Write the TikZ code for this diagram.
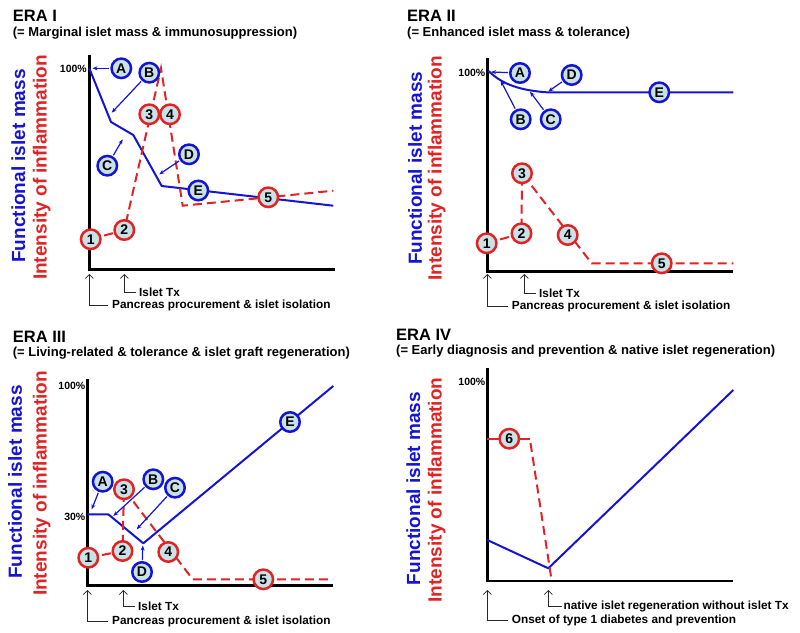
\documentclass[tikz,border=0pt]{standalone}
\usepackage{fontspec}
\setmainfont{Liberation Sans}
\usetikzlibrary{arrows.meta}
\definecolor{bluec}{RGB}{20,20,210}
\definecolor{redc}{RGB}{225,35,35}
\definecolor{fillc}{RGB}{200,226,232}
\definecolor{annc}{RGB}{40,40,40}
\tikzset{
  circ/.style={circle, line width=2.5pt, fill=fillc, minimum size=19.5pt, inner sep=0pt, font=\bfseries\fontsize{14}{14}\selectfont},
  bc/.style={circ, draw=bluec},
  rc/.style={circ, draw=redc},
  bline/.style={draw=bluec, line width=2pt, line join=round},
  rline/.style={draw=redc, line width=2pt, dash pattern=on 9pt off 5pt},
  rsolid/.style={draw=redc, line width=2pt},
  barrow/.style={draw=bluec, line width=1.2pt, -{Stealth[length=5pt,width=4pt]}, shorten <=1pt},
  axisline/.style={draw=black, line width=2.5pt},
  ann/.style={draw=annc, line width=0.7pt},
  annarrow/.style={ann, -{Straight Barb[length=4pt,width=8pt]}},
  anntext/.style={anchor=west, inner sep=0pt, font=\bfseries\fontsize{11.8}{12}\selectfont},
  title/.style={anchor=base west, inner sep=0pt, font=\bfseries\fontsize{16.5}{16.5}\selectfont},
  subtitle/.style={anchor=base west, inner sep=0pt, font=\bfseries\fontsize{13}{13}\selectfont},
  pct/.style={anchor=east, inner sep=0pt, font=\bfseries\fontsize{10.5}{11}\selectfont},
  ylabb/.style={rotate=90, inner sep=0pt, text=bluec, font=\bfseries\fontsize{19}{19}\selectfont},
  ylabr/.style={rotate=90, inner sep=0pt, text=redc, font=\bfseries\fontsize{19}{19}\selectfont},
}
\begin{document}
\begin{tikzpicture}[x=1pt, y=-1pt]
\useasboundingbox[fill=white] (0,0) rectangle (800,632);

% ================= ERA I =================
\node[title] (t1) at (12.7,21.7) {ERA I};
\node[subtitle] (s1) at (12.7,36.7) {(= Marginal islet mass \& immunosuppression)};
\node[ylabb] (yb1) at (18.3,166) {Functional islet mass};
\node[ylabr] (yr1) at (41.7,167.5) {Intensity of inflammation};
\draw[axisline] (89.3,55) |- (335,269.5);
\node[pct] (p1) at (87,69) {100\%};
\draw[bline] (89.3,68.3) -- (111,122) -- (133.3,135) -- (161.7,186) -- (333.3,205.7);
\draw[rline] (90.7,239.3) -- (124.3,230) -- (161,68.3) -- (182.7,205.7) -- (268.3,197.3) -- (333.3,190.7);
\coordinate (a1) at (92.5,68.3);
\coordinate (b1) at (111.7,112.7);
\coordinate (c1) at (122.7,139.3);
\coordinate (d1) at (159.3,174.3);
\node[bc] (A1) at (121.3,68.3) {A};
\node[bc] (B1) at (149.3,72.7) {B};
\node[bc] (C1) at (107.3,165.7) {C};
\node[bc] (D1) at (189,154.3) {D};
\node[bc] (E1) at (198.3,190.5) {E};
\draw[barrow] (A1) -- (a1);
\draw[barrow] (B1) -- (b1);
\draw[barrow] (C1) -- (c1);
\draw[barrow] (D1) -- (d1);
\node[rc] (n11) at (90.7,239.3) {1};
\node[rc] (n12) at (124.3,230) {2};
\node[rc] (n13) at (149.3,114.3) {3};
\node[rc] (n14) at (170,114.3) {4};
\node[rc] (n15) at (268.3,197.3) {5};
\coordinate (u1a) at (89.3,274);
\coordinate (u1b) at (124.3,274);
\node[anntext] (x1a) at (112,305) {Pancreas procurement \& islet isolation};
\node[anntext] (x1b) at (139,292) {Islet Tx};
\draw[annarrow] (x1a.west) ++(-4,0) -| (u1a);
\draw[annarrow] (x1b.west) ++(-3,0) -| (u1b);

% ================= ERA II =================
\node[title] (t2) at (407,21.7) {ERA II};
\node[subtitle] (s2) at (407,36.7) {(= Enhanced islet mass \& tolerance)};
\node[ylabb] (yb2) at (415,168.3) {Functional islet mass};
\node[ylabr] (yr2) at (436.7,168.3) {Intensity of inflammation};
\draw[axisline] (487.3,58) |- (733.3,271.5);
\node[pct] (p2) at (485.5,72.7) {100\%};
\draw[bline] (488.5,71) .. controls (500,82) and (515,90) .. (546.7,92.3) -- (733.3,92.3);
\coordinate (r2a) at (591.7,263.3);
\coordinate (r2b) at (733.3,263.3);
\draw[rline] (486.7,243.3) -- (521.5,233.3) -- (522,173.3) -- (r2a) -- (r2b);
\node[rc] (n21) at (486.7,243.3) {1};
\node[rc] (n22) at (521.5,233.3) {2};
\node[rc] (n23) at (522,173.3) {3};
\node[rc] (n24) at (567.7,235) {4};
\node[rc] (n25) at (661.7,263.3) {5};
\coordinate (a2) at (491,72);
\coordinate (b2) at (500.7,80.7);
\coordinate (c2) at (530,91.7);
\coordinate (d2) at (548.3,91.5);
\node[bc] (A2) at (520,73) {A};
\node[bc] (B2) at (520.7,119.3) {B};
\node[bc] (C2) at (550.7,119.3) {C};
\node[bc] (D2) at (571.7,75) {D};
\node[bc] (E2) at (659.3,92.3) {E};
\draw[barrow] (A2) -- (a2);
\draw[barrow] (B2) -- (b2);
\draw[barrow] (C2) -- (c2);
\draw[barrow] (D2) -- (d2);
\coordinate (u2a) at (487.3,274);
\coordinate (u2b) at (524.3,274);
\node[anntext] (x2a) at (511.7,306) {Pancreas procurement \& islet isolation};
\node[anntext] (x2b) at (539,293.3) {Islet Tx};
\draw[annarrow] (x2a.west) ++(-4,0) -| (u2a);
\draw[annarrow] (x2b.west) ++(-3,0) -| (u2b);

% ================= ERA III =================
\node[title] (t3) at (12.7,342) {ERA III};
\node[subtitle] (s3) at (12.7,356.7) {(= Living-related \& tolerance \& islet graft regeneration)};
\node[ylabb] (yb3) at (15,482) {Functional islet mass};
\node[ylabr] (yr3) at (41.7,483.5) {Intensity of inflammation};
\draw[axisline] (87.3,379) |- (333.3,585.3);
\node[pct] (p3a) at (85.5,386) {100\%};
\node[pct] (p3b) at (85.5,517) {30\%};
\draw[bline] (87.3,514.3) -- (108.3,514.3) -- (143.3,543.3) -- (333.3,386);
\coordinate (r3a) at (192.7,579.3);
\coordinate (r3b) at (333,579.3);
\draw[rline] (88.3,557.7) -- (122.5,551) -- (124,489.3) -- (r3a) -- (r3b);
\coordinate (a3) at (91.7,509.3);
\coordinate (b3) at (113.3,516);
\coordinate (c3) at (136.7,529.3);
\coordinate (d3) at (142.8,545.5);
\node[bc] (A3) at (102.7,481.7) {A};
\node[bc] (B3) at (153.3,479.3) {B};
\node[bc] (C3) at (175,487.7) {C};
\node[bc] (D3) at (142,572) {D};
\node[bc] (E3) at (290,422) {E};
\draw[barrow] (A3) -- (a3);
\draw[barrow] (B3) -- (b3);
\draw[barrow] (C3) -- (c3);
\draw[barrow] (D3) -- (d3);
\node[rc] (n31) at (88.3,557.7) {1};
\node[rc] (n32) at (122.5,551) {2};
\node[rc] (n33) at (124,489.3) {3};
\node[rc] (n34) at (168.3,552) {4};
\node[rc] (n35) at (263.3,579.3) {5};
\coordinate (u3a) at (87.3,590);
\coordinate (u3b) at (123.3,590);
\node[anntext] (x3a) at (112,621) {Pancreas procurement \& islet isolation};
\node[anntext] (x3b) at (138,606) {Islet Tx};
\draw[annarrow] (x3a.west) ++(-4,0) -| (u3a);
\draw[annarrow] (x3b.west) ++(-3,0) -| (u3b);

% ================= ERA IV =================
\node[title] (t4) at (396,340) {ERA IV};
\node[subtitle] (s4) at (396,354.5) {(= Early diagnosis and prevention \& native islet regeneration)};
\node[ylabb] (yb4) at (413.3,488.5) {Functional islet mass};
\node[ylabr] (yr4) at (436.7,490) {Intensity of inflammation};
\draw[axisline] (487.3,367.7) |- (733.3,581);
\node[pct] (p4) at (485.5,381.7) {100\%};
\draw[bline] (487.3,540) -- (548.3,568.3) -- (733.3,390);
\coordinate (r4a) at (487.3,438.7);
\coordinate (r4b) at (530,438.7);
\coordinate (r4c) at (551.7,581);
\coordinate (r4d) at (530.5,443);
\draw[rsolid] (r4a) -- (r4b);
\draw[rline] (r4d) -- (r4c);
\node[rc] (n46) at (509.3,438.7) {6};
\coordinate (u4a) at (487.3,590);
\coordinate (u4b) at (548.3,590);
\node[anntext] (x4a) at (511.7,620) {Onset of type 1 diabetes and prevention};
\node[anntext] (x4b) at (563.5,606) {native islet regeneration without islet Tx};
\draw[annarrow] (x4a.west) ++(-4,0) -| (u4a);
\draw[annarrow] (x4b.west) ++(-2,0) -| (u4b);
\end{tikzpicture}
\end{document}
